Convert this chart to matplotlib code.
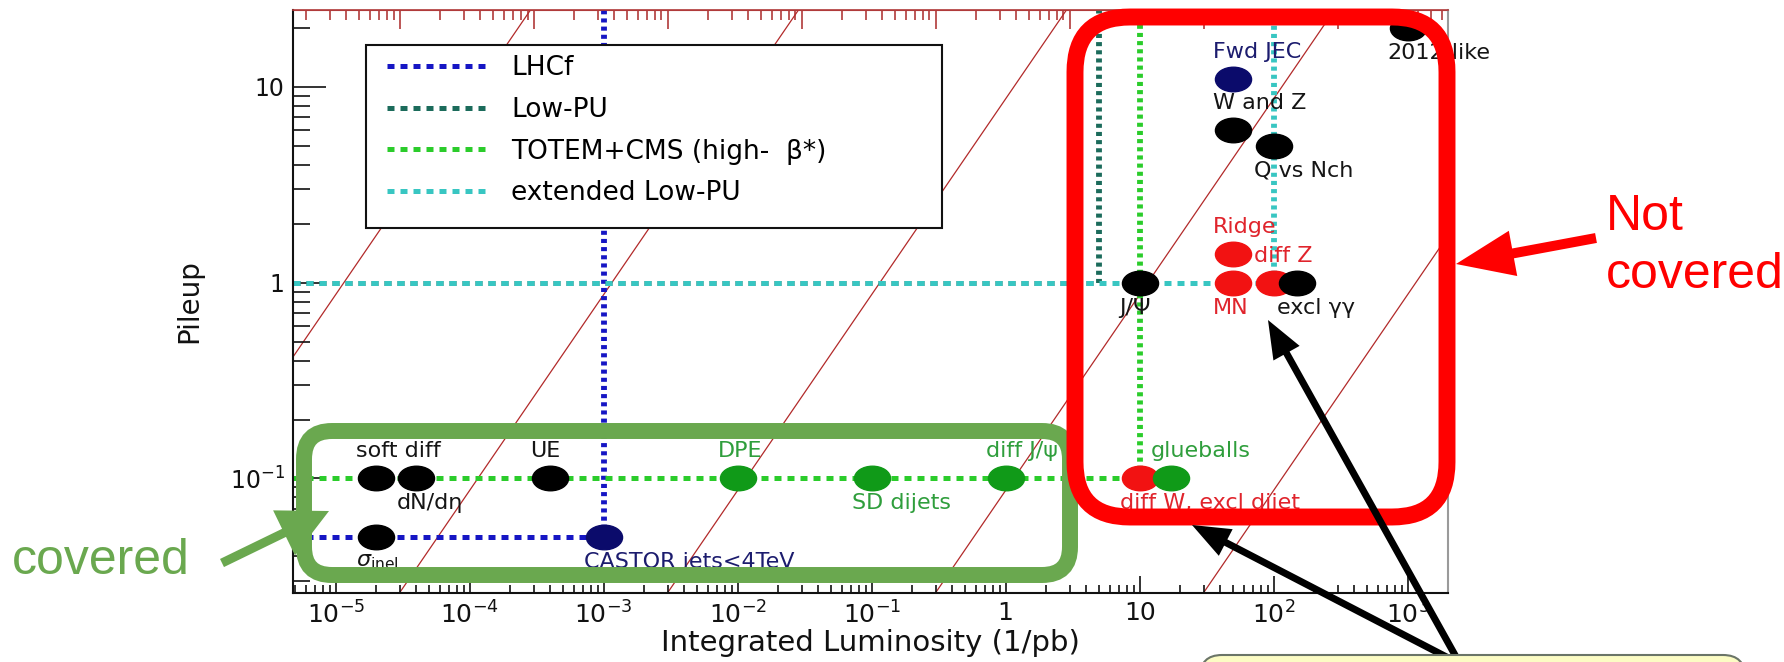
import numpy as np
import matplotlib
matplotlib.use('Agg')
import matplotlib.pyplot as plt
from matplotlib.path import Path
from matplotlib.transforms import Affine2D
from matplotlib.patches import FancyBboxPatch, FancyArrow, Rectangle
from matplotlib.lines import Line2D
from matplotlib.ticker import LogLocator, FuncFormatter, NullFormatter

plt.rcParams['font.family'] = 'DejaVu Sans'
plt.rcParams['mathtext.fontset'] = 'dejavusans'

# measurements: integrated luminosity (1/pb) vs pileup
labels = ['soft diff', 'dN/dη', 'UE', r'$\sigma_{\rm inel}$', 'CASTOR jets<4TeV',
          'DPE', 'SD dijets', 'diff J/ψ', 'diff W, excl dijet', 'glueballs',
          'J/Ψ', 'MN', 'diff Z', 'excl γγ', 'Ridge', 'W and Z', 'Q vs Nch',
          'Fwd JEC', '2012-like']
lumi = [2e-5, 4e-5, 4e-4, 2e-5, 1e-3, 1e-2, 1e-1, 1, 10, 17,
        10, 50, 100, 150, 50, 50, 100, 50, 1000]
pileup = [0.1, 0.1, 0.1, 0.05, 0.05, 0.1, 0.1, 0.1, 0.1, 0.1,
          1, 1, 1, 1, 1.4, 6, 5, 11, 20]
group = ['black', 'black', 'black', 'black', 'navy', 'green', 'green', 'green',
         'red', 'green', 'black', 'red', 'red', 'black', 'red', 'black', 'black',
         'navy', 'black']
label_above = [True, False, True, False, False, True, False, True, False, True,
               False, False, True, False, True, True, False, True, False]

# run conditions: reach in lumi at a given pileup
run_names = ['LHCf', 'Low-PU', 'TOTEM+CMS (high-  β*)', 'extended Low-PU']
run_lumi = [1e-3, 5, 10, 100]
run_pileup = [0.05, 1, 0.1, 1]
run_colors = ['#1616c4', '#1b6b5b', '#2bcc2b', '#38c6c2']

# constant lumi/pileup guide lines
guide_ratio = [1.15e-7, 1.15e-5, 1.15e-3, 0.115, 11.5, 1150, 1.15e5]

marker_col = {'black': '#000000', 'navy': '#0b0b6b', 'green': '#109a18', 'red': '#f21212'}
text_col = {'black': '#151515', 'navy': '#1c1c6e', 'green': '#2f9e3c', 'red': '#e0242c'}

W, H = 1784, 662
fig = plt.figure(figsize=(W / 100, H / 100), dpi=100)
ax = fig.add_axes([293 / W, (H - 593) / H, (1448 - 293) / W, (593 - 10) / H])
ax.set_xscale('log')
ax.set_yscale('log')
xmin, xmax = 4.8e-6, 2000
ymin, ymax = 0.026, 24.7
ax.set_xlim(xmin, xmax)
ax.set_ylim(ymin, ymax)

# diagonal guides
pu_span = np.array([ymin / 2, ymax * 2])
for r in guide_ratio:
    ax.plot(r * pu_span, pu_span, color='#b22a2a', lw=0.9, zorder=1)

# run condition lines
hstyle = (0, (1.4, 1.2))
vstyle = (0, (0.7, 0.7))
for name, l, p, c in zip(run_names, run_lumi, run_pileup, run_colors):
    ax.plot([xmin, l], [p, p], color=c, lw=3.6, ls=hstyle, zorder=2)
    ax.plot([l, l], [p, ymax], color=c, lw=4.2, ls=vstyle, zorder=2)

# elliptical markers (the source figure is horizontally stretched)
ell = Path.unit_circle().transformed(Affine2D().scale(1.0, 0.68))
for l, p, g in zip(lumi, pileup, group):
    ax.plot([l], [p], ls='none', marker=ell, ms=26, color=marker_col[g], zorder=4)

for name, l, p, g, up in zip(labels, lumi, pileup, group, label_above):
    ax.annotate(name, xy=(l, p), xytext=(-20, 27 if up else -25),
                textcoords='offset pixels', ha='left', va='center',
                fontsize=16, color=text_col[g], zorder=5, annotation_clip=False)

# axes styling (ROOT-like)
def fmt(v, pos):
    e = int(round(np.log10(v)))
    if e == 0:
        return '1'
    if e == 1:
        return '10'
    return r'$10^{%d}$' % e

for axis in (ax.xaxis, ax.yaxis):
    axis.set_major_locator(LogLocator(base=10, numticks=30))
    axis.set_minor_locator(LogLocator(base=10, subs=np.arange(2, 10), numticks=30))
    axis.set_major_formatter(FuncFormatter(fmt))
    axis.set_minor_formatter(NullFormatter())
ax.tick_params(which='both', direction='in', top=False, right=False, width=1.2, colors='#111111')
ax.tick_params(axis='x', which='major', length=12, pad=6, labelsize=18)
ax.tick_params(axis='x', which='minor', length=6)
ax.tick_params(axis='y', which='major', length=24, pad=6, labelsize=17)
ax.tick_params(axis='y', which='minor', length=12)
for s in ('left', 'bottom'):
    ax.spines[s].set_linewidth(1.5)
    ax.spines[s].set_color('#111111')
ax.spines['right'].set_color('#9a9a9a')
ax.spines['right'].set_linewidth(1.5)
ax.spines['top'].set_color('#b03a3a')
ax.spines['top'].set_linewidth(1.2)

top = ax.secondary_xaxis('top', functions=(lambda x: x / 3.0, lambda x: x * 3.0))
top.xaxis.set_major_locator(LogLocator(base=10, numticks=30))
top.xaxis.set_minor_locator(LogLocator(base=10, subs=np.arange(2, 10), numticks=30))
top.xaxis.set_major_formatter(NullFormatter())
top.xaxis.set_minor_formatter(NullFormatter())
top.tick_params(which='both', direction='in', colors='#b03a3a', width=1.2)
top.tick_params(which='major', length=14)
top.tick_params(which='minor', length=7)
top.spines['top'].set_color('#b03a3a')

ax.set_xlabel('Integrated Luminosity (1/pb)', fontsize=21, color='#111111')
ax.set_ylabel('Pileup', fontsize=20, color='#111111')
ax.xaxis.set_label_coords(0.5, -0.062)
ax.yaxis.set_label_coords(-0.078, 0.5)

# legend with a separately drawn frame
ax.add_patch(Rectangle(((366 - 293) / 1155, 1 - (228 - 10) / 583),
                       (942 - 366) / 1155, (228 - 45) / 583,
                       transform=ax.transAxes, facecolor='white',
                       edgecolor='#111111', lw=1.5, zorder=6))
handles = [Line2D([], [], color=c, lw=3.6, ls=hstyle) for c in run_colors]
leg = ax.legend(handles, run_names, loc='upper left',
                bbox_to_anchor=((387 - 293) / 1155, 1 - (55 - 10) / 583),
                frameon=False, fontsize=19, handlelength=3.94, handletextpad=0.76,
                labelspacing=0.6, borderpad=0, borderaxespad=0)
leg.set_zorder(7)

# slide annotations on top of the chart, in reference pixel units
T = Affine2D().scale(1 / W, 1 / H) + fig.transFigure


def box(x0, y0, x1, y1, r, **kw):
    fig.add_artist(FancyBboxPatch((x0, H - y1), x1 - x0, y1 - y0,
                                  boxstyle=f'round,pad=0,rounding_size={r}',
                                  transform=T, **kw))


def arrow(x0, y0, x1, y1, w, hw, hl, c, z=3):
    fig.add_artist(FancyArrow(x0, H - y0, x1 - x0, -(y1 - y0), width=w,
                              head_width=hw, head_length=hl,
                              length_includes_head=True, transform=T,
                              color=c, lw=0, zorder=z))


green = '#6aa84f'
box(304, 431, 1070, 575, 28, facecolor='none', edgecolor=green, lw=11.5, zorder=2)
box(1075, 17, 1447, 517, 55, facecolor='none', edgecolor='#ff0000', lw=12.2, zorder=2)

arrow(222, 563, 329, 511, 9, 50, 50, green)
arrow(1596, 238, 1456, 264, 10, 46, 58, '#ff0000')
arrow(1460, 664, 1192, 525, 7, 30, 38, '#000000')
arrow(1460, 664, 1268, 320, 7, 30, 38, '#000000')

box(1200, 655, 1745, 720, 22, facecolor='#fcfcc4', edgecolor='#6b7568', lw=1.5, zorder=4)

fig.text(1606, H - 230, 'Not', transform=T, fontsize=36, color='#ff0000',
         family='Liberation Sans', ha='left', va='baseline')
fig.text(1606, H - 288, 'covered', transform=T, fontsize=36, color='#ff0000',
         family='Liberation Sans', ha='left', va='baseline')
fig.text(12, H - 574, 'covered', transform=T, fontsize=36, color=green,
         family='Liberation Sans', ha='left', va='baseline')

fig.savefig('out.png', dpi=100, facecolor='white')
